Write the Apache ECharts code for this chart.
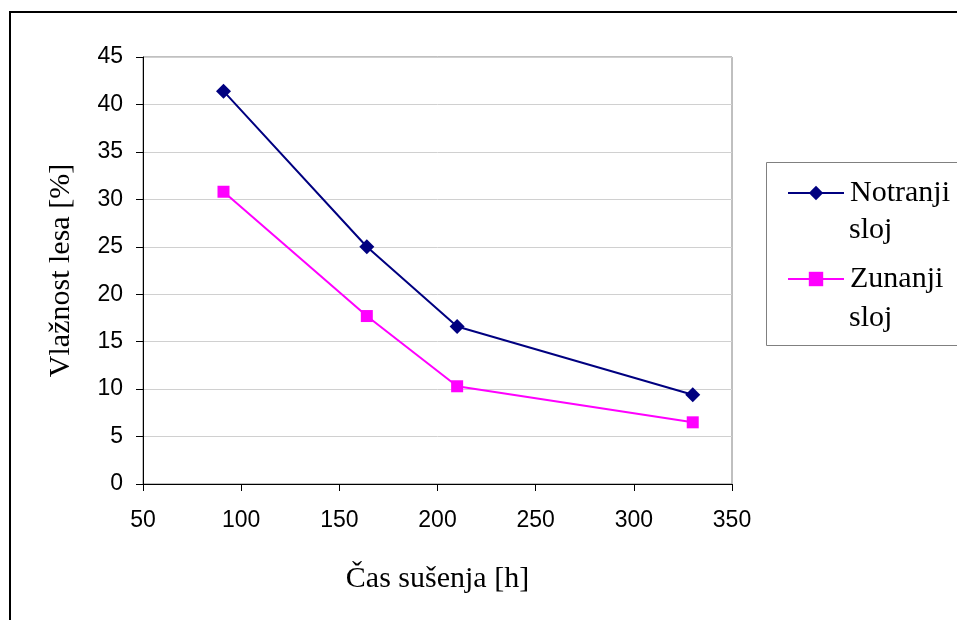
<!DOCTYPE html>
<html><head><meta charset="utf-8">
<script src="https://cdn.jsdelivr.net/npm/echarts@6/dist/echarts.min.js"></script>
<style>html,body{margin:0;padding:0;background:#fff}#c{width:957px;height:620px}</style>
</head><body><div id="c"></div>
<script>
const hours = [91, 164, 210, 330];
const notranji = [41.4, 25.0, 16.6, 9.4];
const zunanji = [30.8, 17.7, 10.3, 6.5];
const yTicks = [0, 45, 5];
const xTicks = [50, 350, 50];

const chart = echarts.init(document.getElementById('c'), null, {renderer: 'canvas'});
const serif = '"Liberation Serif","Times New Roman",serif';
const sans = '"Liberation Sans",Arial,sans-serif';
chart.setOption({
  animation: false,
  backgroundColor: '#fff',
  grid: {left: 143, right: 225, top: 57, bottom: 136, show: true, borderColor: '#808080', borderWidth: 1},
  xAxis: {
    type: 'value', min: xTicks[0], max: xTicks[1], interval: xTicks[2],
    name: 'Čas sušenja [h]', nameLocation: 'middle', nameGap: 80,
    nameTextStyle: {fontFamily: serif, fontSize: 30, color: '#000'},
    axisLine: {lineStyle: {color: '#000', width: 1}},
    axisTick: {show: true, inside: false, length: 7, lineStyle: {color: '#000'}},
    axisLabel: {fontFamily: sans, fontSize: 23, color: '#000', margin: 25},
    splitLine: {show: false}
  },
  yAxis: {
    type: 'value', min: yTicks[0], max: yTicks[1], interval: yTicks[2],
    name: 'Vlažnost lesa [%]', nameLocation: 'middle', nameGap: 67,
    nameTextStyle: {fontFamily: serif, fontSize: 30, color: '#000'},
    axisLine: {show: true, lineStyle: {color: '#000', width: 1}},
    axisTick: {show: true, inside: false, length: 7, lineStyle: {color: '#000'}},
    axisLabel: {fontFamily: sans, fontSize: 23, color: '#000', margin: 20},
    splitLine: {show: true, lineStyle: {color: '#d0d0d0', width: 1}}
  },
  legend: {
    orient: 'vertical', left: 787, top: 178, padding: 0, itemWidth: 56, itemHeight: 18, itemGap: 56,
    formatter: n => n.split(' ')[0],
    textStyle: {fontFamily: serif, fontSize: 30, lineHeight: 30, color: '#000', padding: [0,0,0,1]},
    data: ['Notranji sloj', 'Zunanji sloj']
  },
  series: [
    {name: 'Notranji sloj', type: 'line', data: hours.map((h,i)=>[h, notranji[i]]),
     symbol: 'diamond', symbolSize: 15, lineStyle: {color: '#000080', width: 2},
     itemStyle: {color: '#000080'}},
    {name: 'Zunanji sloj', type: 'line', data: hours.map((h,i)=>[h, zunanji[i]]),
     symbol: 'rect', symbolSize: 12, lineStyle: {color: '#ff00ff', width: 2},
     itemStyle: {color: '#ff00ff'}}
  ],
  graphic: [
    {type: 'rect', shape: {x: 10, y: 12, width: 1000, height: 1000}, style: {fill: 'none', stroke: '#000', lineWidth: 2}, z: 100},
    {type: 'rect', shape: {x: 766.5, y: 162.5, width: 300, height: 183}, style: {fill: 'none', stroke: '#808080', lineWidth: 1}, z: 100},
    {type: 'text', x: 849, y: 230, style: {text: 'sloj', font: '30px ' + serif, fill: '#000', verticalAlign: 'middle'}},
    {type: 'text', x: 849, y: 318, style: {text: 'sloj', font: '30px ' + serif, fill: '#000', verticalAlign: 'middle'}}
  ]
});
</script></body></html>
